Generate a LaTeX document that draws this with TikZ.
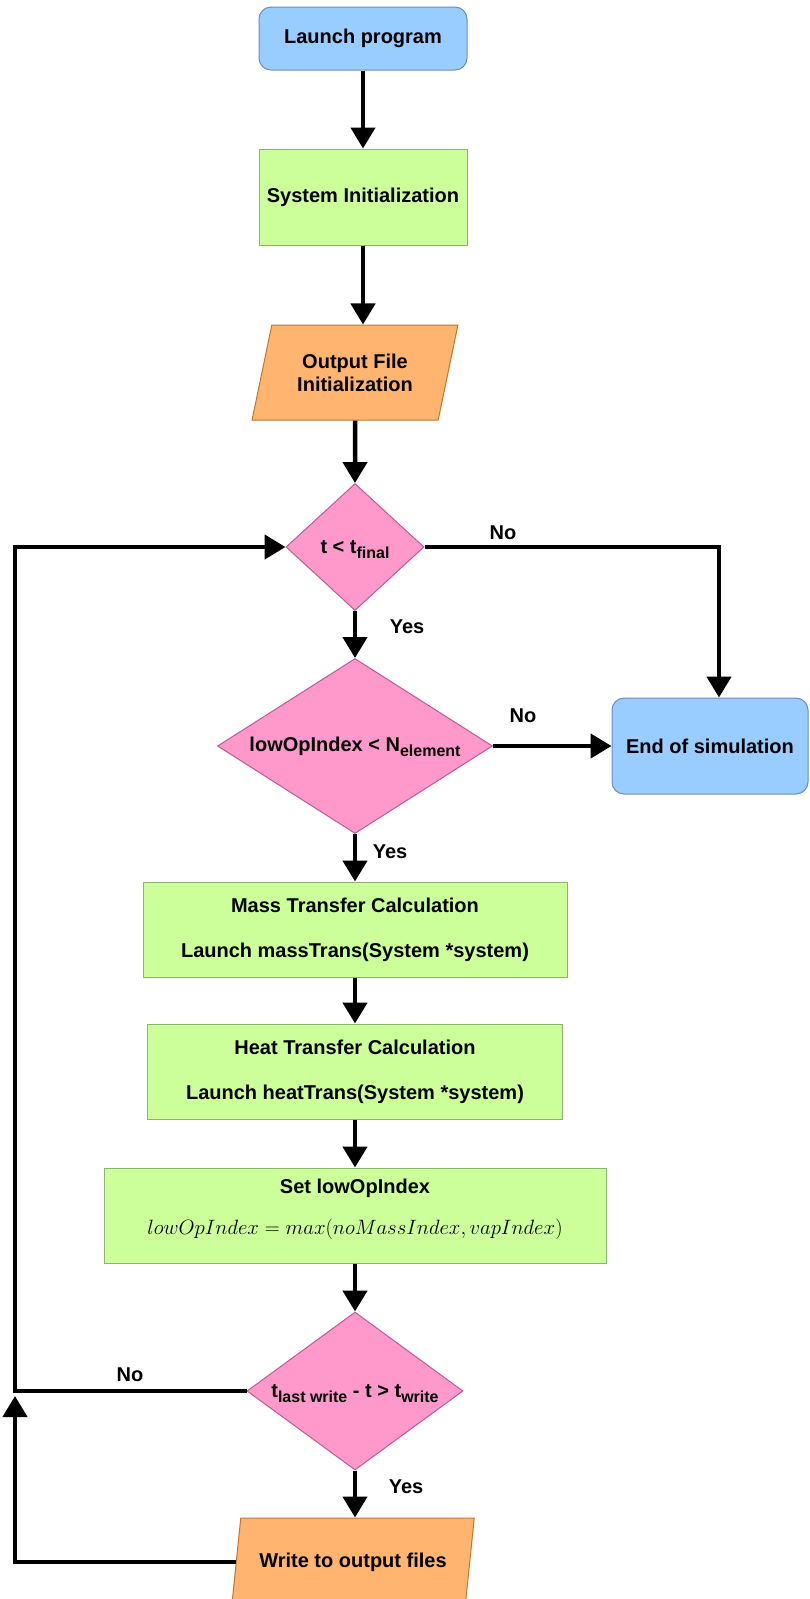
\documentclass[tikz,border=0pt]{standalone}
\usepackage{fontspec}
\setmainfont{Liberation Sans}
\usetikzlibrary{shapes.geometric, arrows.meta}
\definecolor{bluefill}{RGB}{153,204,255}
\definecolor{blueborder}{RGB}{110,140,190}
\definecolor{greenfill}{RGB}{204,255,153}
\definecolor{greenborder}{RGB}{140,180,110}
\definecolor{orangefill}{RGB}{255,181,112}
\definecolor{orangeborder}{RGB}{190,120,50}
\definecolor{pinkfill}{RGB}{255,153,204}
\definecolor{pinkborder}{RGB}{190,90,150}
\newcommand{\mysub}[1]{\raisebox{-5pt}[0pt][0pt]{\fontsize{16}{16}\selectfont #1}}
\tikzset{
  base/.style={font=\fontsize{20}{25}\selectfont\bfseries, text=black, line width=1pt, inner sep=0pt, align=center},
  termbox/.style={base, draw=blueborder, fill=bluefill, rounded corners=12pt},
  procbox/.style={base, draw=greenborder, fill=greenfill},
  iobox/.style={base, trapezium, trapezium left angle=70, trapezium right angle=110, trapezium stretches=true, draw=orangeborder, fill=orangefill},
  decision/.style={base, diamond, draw=pinkborder, fill=pinkfill},
  conn/.style={line width=4.5pt, -{Triangle[length=21pt,width=24pt]}},
  lbl/.style={font=\fontsize{20}{24}\selectfont\bfseries, inner sep=0pt}
}
\begin{document}
\begin{tikzpicture}[x=1pt,y=-1pt]
\useasboundingbox (0,0) rectangle (810,1599);
\clip (0,0) rectangle (810,1599);
\fill[white] (0,0) rectangle (810,1599);

\node[termbox, minimum width=208pt, minimum height=63pt] (launch) at (363,38.5) {Launch program};
\node[procbox, minimum width=208pt, minimum height=96pt] (sysinit) at (363,197) {System Initialization};
\node[iobox, font=\fontsize{20}{23}\selectfont\bfseries, minimum width=206pt, minimum height=95pt] (outfile) at (355,372.5) {Output File\\Initialization};
\node[decision, aspect=1.09, minimum width=138pt, minimum height=127pt] (d1) at (355,547) {t < t\mysub{final}};
\node[decision, aspect=1.57, minimum width=275pt, minimum height=175pt] (d2) at (355,746) {lowOpIndex < N\mysub{element}};
\node[termbox, minimum width=196pt, minimum height=96pt] (endsim) at (710,746) {End of simulation};
\node[procbox, minimum width=424pt, minimum height=95pt] (mass) at (355,929.5) {Mass Transfer Calculation\\[20pt]Launch massTrans(System *system)};
\node[procbox, minimum width=415pt, minimum height=95pt] (heat) at (355,1071.5) {Heat Transfer Calculation\\[20pt]Launch heatTrans(System *system)};
\node[procbox, minimum width=502pt, minimum height=95pt, text depth=17pt] (setidx) at (355,1215.5) {Set lowOpIndex\\[16pt]{\fontsize{20.74}{25}\selectfont$lowOpIndex = max(noMassIndex, vapIndex)$}};
\node[decision, aspect=1.37, minimum width=216pt, minimum height=158pt] (d3) at (355,1391) {t\mysub{last write} - t > t\mysub{write}};
\node[iobox, trapezium left angle=68, trapezium right angle=112, minimum width=243pt, minimum height=88pt] (write) at (353,1562) {Write to output files};

\coordinate (rcorner) at (719,547);
\coordinate (lcorner) at (15,1391);
\coordinate (ltop) at (15,547);

\draw[conn] (launch.south) -- (sysinit.north);
\draw[conn] (sysinit.south) -- (sysinit.south |- outfile.north);
\draw[conn] (outfile.south) -- (d1.north);
\draw[conn] (d1.south) -- (d2.north);
\draw[conn] (d2.south) -- (mass.north);
\draw[conn] (mass.south) -- (heat.north);
\draw[conn] (heat.south) -- (setidx.north);
\draw[conn] (setidx.south) -- (d3.north);
\draw[conn] (d3.south) -- (d3.south |- write.north);
\draw[conn] (d1.east) -- (rcorner) -- (rcorner |- endsim.north);
\draw[conn] (d2.east) -- (endsim.west);
\draw[conn] (d3.west) -- (lcorner) -- (ltop) -- (d1.west);
\draw[conn] (write.left side) -- (write.left side -| lcorner) -- ([yshift=-5pt]lcorner);

\node[lbl] (no1) at (503,533) {No};
\node[lbl] (yes1) at (407,627) {Yes};
\node[lbl] (no2) at (523,716) {No};
\node[lbl] (yes2) at (390,852) {Yes};
\node[lbl] (no3) at (130,1375) {No};
\node[lbl] (yes3) at (406,1487) {Yes};
\end{tikzpicture}
\end{document}
